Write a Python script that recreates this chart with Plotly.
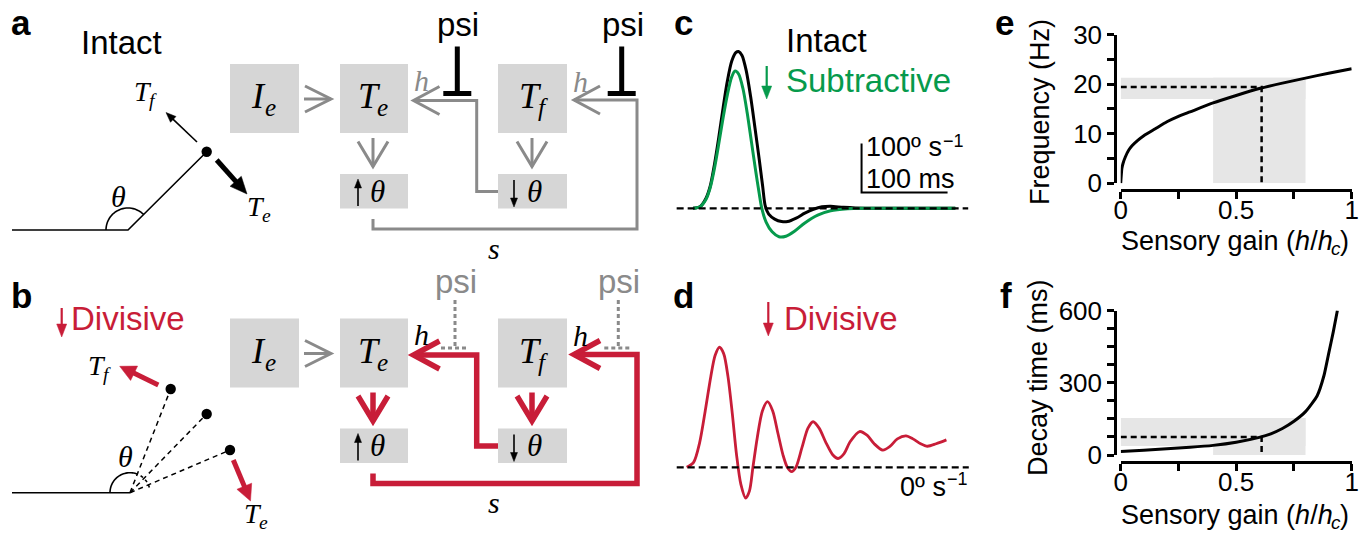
import math
import plotly.graph_objects as go

W, H = 1368, 535

# ---------------- data ----------------
# c: angular velocity (deg/s) over time (ms) after a perturbation
c_time_intact = [0, 8, 15, 20, 25, 30, 35, 40, 45, 50, 53, 57, 62, 67, 72, 77, 81, 84, 88, 95,
                 103, 110, 120, 130, 140, 150, 160, 175, 200, 240, 305]
c_vel_intact = [0, 3, 20, 45, 90, 145, 205, 260, 300, 318, 320, 312, 280, 228, 165, 100, 45, 5, -12, -22,
                -27, -27, -20, -10, -2, 3, 4, 2, 0, 0, 0]
c_time_sub = [0, 8, 15, 20, 25, 30, 35, 40, 45, 49, 53, 58, 63, 68, 73, 77, 80, 85, 92, 100,
              108, 118, 130, 145, 160, 180, 200, 240, 305]
c_vel_sub = [0, 3, 18, 42, 82, 132, 185, 232, 268, 280, 274, 245, 195, 135, 75, 30, 0, -28, -48, -58,
             -57, -47, -30, -14, -5, -1, 0, 0, 0]

# d: divisive reduction of sensory gain -> ringing response
d_time = [0, 8, 15, 22, 28, 33, 38, 43, 48, 53, 58, 63, 68.6, 73, 77, 82, 88, 94, 100, 106,
          112, 117, 122, 127, 134, 141, 147, 154, 162, 170, 176, 183, 190, 201, 210, 218,
          228, 236, 245, 255, 263, 272, 280, 290, 302]
d_vel = [0, 10, 50, 120, 185, 228, 245, 232, 185, 110, 25, -35, -63, -48, 0, 60, 115, 134, 115, 70,
         25, 0, -9, 0, 40, 80, 93, 80, 50, 25, 18, 28, 52, 73, 65, 48,
         35, 42, 58, 64, 58, 48, 43, 48, 56]

# e: oscillation frequency vs sensory gain
e_gain = [0, 0.005, 0.01, 0.02, 0.035, 0.05, 0.075, 0.1, 0.15, 0.2, 0.25, 0.3, 0.4, 0.5, 0.6,
          0.7, 0.8, 0.9, 1.0]
e_freq = [0, 3.0, 4.0, 5.3, 6.7, 7.6, 8.7, 9.6, 11.0, 12.4, 13.5, 14.4, 16.2, 17.7, 19.1,
          20.2, 21.2, 22.2, 23.1]

# f: decay time vs sensory gain
f_gain = [0, 0.1, 0.2, 0.3, 0.4, 0.5, 0.6, 0.65, 0.7, 0.75, 0.8, 0.85, 0.88, 0.9, 0.92, 0.938]
f_decay = [15, 20, 26, 32, 40, 53, 73, 88, 110, 140, 180, 245, 330, 420, 510, 600]

# operating point and physiological range
gain_op = 0.61
freq_op = 19.4
decay_op = 75
gain_band = [0.4, 0.8]
freq_band = [17.0, 21.3]
decay_band = [37, 154]

# scale bar for c
bar_ms = 100
bar_vel = 100

# labelled and unlabelled tick positions
e_ticks = [0, 10, 20, 30]
e_minor = [5, 15, 25]
f_ticks = [0, 300, 600]
f_minor = [75, 150, 225, 375, 450, 525]
gain_ticks = [0, 0.5, 1]
gain_minor = [0.25, 0.75]

# ---------------- style ----------------
SANS = "Arial, Liberation Sans, sans-serif"
SERIF = "Liberation Serif, Times New Roman, serif"
RED = "#c81d38"
GREEN = "#069a4c"
GRAY = "#8a8a8a"
BOX = "#d6d6d6"
SHADE = "#e6e6e6"

# approximate advance widths (em) of the italic serif glyphs used in symbols
GLYPH_W = {"T": 0.556, "I": 0.42, "e": 0.444, "f": 0.278}

shapes = []
annotations = []


def px_x(p):
    return p / W


def px_y(p):
    return 1 - p / H


def poly(pts, color, width, dash="solid", xref="x", yref="y", layer="above"):
    path = "M " + " L ".join(f"{x:.2f},{y:.2f}" for x, y in pts)
    shapes.append(dict(type="path", path=path, xref=xref, yref=yref, layer=layer,
                       line=dict(color=color, width=width, dash=dash)))


def box(x0, y0, x1, y1):
    shapes.append(dict(type="rect", x0=x0, y0=y0, x1=x1, y1=y1, xref="x", yref="y",
                       fillcolor=BOX, line=dict(width=0), layer="above"))


def dot(cx, cy, r=5.2):
    shapes.append(dict(type="circle", x0=cx - r, y0=cy - r, x1=cx + r, y1=cy + r, xref="x",
                       yref="y", fillcolor="black", line=dict(width=0), layer="above"))


def chevron(tx, ty, direction, color, width, along=26, spread=14):
    if direction == "right":
        pts = [(tx - along, ty - spread), (tx, ty), (tx - along, ty + spread)]
    elif direction == "left":
        pts = [(tx + along, ty - spread), (tx, ty), (tx + along, ty + spread)]
    else:  # down
        pts = [(tx - spread, ty - along), (tx, ty), (tx + spread, ty - along)]
    poly(pts, color, width)


def arrow(x0, y0, x1, y1, color, width, head_len, head_w):
    """Straight arrow with a filled triangular head ending at (x1, y1)."""
    L = math.hypot(x1 - x0, y1 - y0)
    ux, uy = (x1 - x0) / L, (y1 - y0) / L
    bx, by = x1 - ux * head_len, y1 - uy * head_len
    nx, ny = -uy, ux
    poly([(x0, y0), (bx + ux * 1.5, by + uy * 1.5)], color, width)
    p1 = (bx + nx * head_w / 2, by + ny * head_w / 2)
    p2 = (bx - nx * head_w / 2, by - ny * head_w / 2)
    shapes.append(dict(type="path", xref="x", yref="y", layer="above",
                       path=f"M {x1:.2f},{y1:.2f} L {p1[0]:.2f},{p1[1]:.2f} L {p2[0]:.2f},{p2[1]:.2f} Z",
                       fillcolor=color, line=dict(color=color, width=0.5)))


def text(x, y, s, size, color="black", family=SANS, xanchor="center", yanchor="middle",
         angle=0):
    annotations.append(dict(x=x, y=y, xref="x", yref="y", text=s, showarrow=False,
                            font=dict(size=size, color=color, family=family),
                            xanchor=xanchor, yanchor=yanchor, textangle=angle,
                            borderpad=0, borderwidth=0))


def symbol(cx, cy, main, sub, size, color="black"):
    """Italic symbol with an italic subscript, centred on (cx, cy)."""
    ss = 0.7 * size
    wm = GLYPH_W[main] * size
    ws = GLYPH_W[sub] * ss
    left = cx - (wm + ws) / 2
    text(left, cy, f"<i>{main}</i>", size, color, SERIF, xanchor="left")
    text(left + wm - 0.03 * size, cy + 0.33 * size, f"<i>{sub}</i>", ss, color, SERIF,
         xanchor="left")


def arc(cx, cy, r, a0, a1, n=30):
    return [(cx + r * math.cos(math.radians(a0 + (a1 - a0) * i / n)),
             cy - r * math.sin(math.radians(a0 + (a1 - a0) * i / n))) for i in range(n + 1)]


# ---------------- panel letters ----------------
for letter, (lx, ly) in {"a": (21, 22), "b": (21, 295), "c": (683, 22), "d": (683, 295),
                         "e": (1004, 22), "f": (1006, 295)}.items():
    text(lx, ly, f"<b>{letter}</b>", 35)

# ---------------- panel a: intact limb ----------------
text(121, 42, "Intact", 33)
poly([(12, 230), (128, 230), (206.7, 151.7)], "black", 1.6)
poly(arc(128, 230, 22, 45, 180), "black", 1.6)
dot(206.7, 151.7)
text(118, 196, "<i>θ</i>", 30, family=SERIF)
arrow(197, 142, 166, 112.5, "black", 1.6, 10, 8)
arrow(216.7, 160, 247, 194, "black", 5, 17, 15)
symbol(145, 91, "T", "f", 28)
symbol(259, 206, "T", "e", 28)

# ---------------- panel b: divisive limb ----------------
arrow(61.7, 308, 61.7, 337, RED, 2.2, 13, 10)
text(71, 318, "Divisive", 33, color=RED, xanchor="left")
pivot_b = (130, 492.7)
poly([(12, 492.7), pivot_b], "black", 1.6)
for d in [(170.7, 389), (206.7, 414), (230, 450)]:
    poly([pivot_b, d], "black", 1.5, dash="5px,4px")
    dot(*d)
poly(arc(pivot_b[0], pivot_b[1], 20, 68, 180), "black", 1.6)
poly(arc(pivot_b[0], pivot_b[1], 20, 15, 68, n=12), "black", 1.6, dash="3px,3px")
text(125, 456, "<i>θ</i>", 30, family=SERIF)
arrow(158.3, 385, 119.7, 366.3, RED, 5, 16, 16)
arrow(233.3, 460, 250.5, 501, RED, 5, 16, 16)
symbol(99, 365, "T", "f", 28)
symbol(256, 513, "T", "e", 28)

# ---------------- block diagrams (a: intact, b: divisive) ----------------
for dy, loop_col, loop_w, hcol in [(0, GRAY, 3, GRAY), (254.5, RED, 5.5, "black")]:
    box(230, 64 + dy, 299, 133 + dy)
    box(340, 64 + dy, 408, 133 + dy)
    box(498, 64 + dy, 567, 133 + dy)
    box(340, 174 + dy, 408, 208.5 + dy)
    box(498, 174 + dy, 567, 208.5 + dy)
    symbol(264.5, 96 + dy, "I", "e", 36)
    symbol(374, 96 + dy, "T", "e", 36)
    symbol(532.5, 96 + dy, "T", "f", 36)
    # I_e -> T_e
    poly([(304, 99 + dy), (331, 99 + dy)], GRAY, 3)
    chevron(331, 99 + dy, "right", GRAY, 3, along=26, spread=13)
    # T -> theta
    poly([(373, 138 + dy), (373, 166.5 + dy)], loop_col, loop_w)
    chevron(373, 166.5 + dy, "down", loop_col, loop_w, along=25, spread=15)
    poly([(532, 138 + dy), (532, 166.5 + dy)], loop_col, loop_w)
    chevron(532, 166.5 + dy, "down", loop_col, loop_w, along=25, spread=15)
    # theta markers
    arrow(358, 206 + dy, 358, 179 + dy, "black", 1.6, 9, 7)
    text(377, 191 + dy, "<i>θ</i>", 31, family=SERIF)
    arrow(514, 180 + dy, 514, 207 + dy, "black", 1.6, 9, 7)
    text(534, 191 + dy, "<i>θ</i>", 31, family=SERIF)
    # inner feedback (down-theta -> T_e)
    poly([(498, 191.5 + dy), (476.7, 191.5 + dy), (476.7, 100.5 + dy), (413.5, 100.5 + dy)],
         loop_col, loop_w)
    chevron(413.5, 100.5 + dy, "left", loop_col, loop_w, along=26, spread=14)
    # outer feedback (up-theta -> T_f)
    poly([(373, 219 + dy), (373, 229 + dy), (637, 229 + dy), (637, 100 + dy), (574, 100 + dy)],
         loop_col, loop_w)
    chevron(574, 100 + dy, "left", loop_col, loop_w, along=26, spread=14)
    text(421, 80 + dy, "<i>h</i>", 30, color=hcol, family=SERIF)
    text(580, 81 + dy, "<i>h</i>", 30, color=hcol, family=SERIF)
    text(494, 248 + dy, "<i>s</i>", 30, family=SERIF)

# psi: blocking in a (solid), released in b (dotted)
for px_ in (457.3, 621.7):
    poly([(px_, 46.5), (px_, 93)], "black", 5)
    poly([(px_ - 14, 93.5), (px_ + 14, 93.5)], "black", 5)
    text(px_ + 1, 24, "psi", 33)
for px_ in (455, 618.3):
    poly([(px_, 300), (px_, 347.5)], GRAY, 3, dash="4px,3px")
    poly([(px_ - 14, 348), (px_ + 14, 348)], GRAY, 3, dash="4px,3px")
    text(px_ + 1, 281, "psi", 33, color=GRAY)

# ---------------- panel c / d texts ----------------
text(786, 40, "Intact", 33, xanchor="left")
arrow(766.7, 66, 766.7, 99, GREEN, 2.2, 13, 10)
text(786, 80, "Subtractive", 33, color=GREEN, xanchor="left")
text(866, 162, "100º s", 27, xanchor="left", yanchor="bottom")
text(943, 151, "−1", 18, xanchor="left", yanchor="bottom")
text(866, 164, "100 ms", 27, xanchor="left", yanchor="top")
arrow(768.3, 302, 768.3, 336, RED, 2.2, 13, 10)
text(784, 318, "Divisive", 33, color=RED, xanchor="left")
text(968, 479, "−1", 18, xanchor="right")
text(946, 487, "0º s", 27, xanchor="right")

# ---------------- panel e / f axis titles ----------------
text(1040, 112, "Frequency (Hz)", 27, angle=-90)
text(1038, 378, "Decay time (ms)", 27, angle=-90)
for ty in (241, 515):
    text(1333, ty, "Sensory gain (<i>h</i>/<i>h</i>", 27, xanchor="right")
    text(1331, ty + 7, "<i>c</i>", 19, xanchor="left")
    text(1340, ty, ")", 27, xanchor="left")

# ---------------- traces ----------------
fig = go.Figure()
fig.add_trace(go.Scatter(x=c_time_intact, y=c_vel_intact, mode="lines", xaxis="x2", yaxis="y2",
                         line=dict(color="black", width=3, shape="spline", smoothing=0.8)))
fig.add_trace(go.Scatter(x=c_time_sub, y=c_vel_sub, mode="lines", xaxis="x2", yaxis="y2",
                         line=dict(color=GREEN, width=3, shape="spline", smoothing=0.8)))
fig.add_trace(go.Scatter(x=d_time, y=d_vel, mode="lines", xaxis="x3", yaxis="y3",
                         line=dict(color=RED, width=2.8, shape="spline", smoothing=0.8)))
fig.add_trace(go.Scatter(x=e_gain, y=e_freq, mode="lines", xaxis="x4", yaxis="y4",
                         line=dict(color="black", width=3, shape="spline", smoothing=0.5)))
fig.add_trace(go.Scatter(x=f_gain, y=f_decay, mode="lines", xaxis="x5", yaxis="y5",
                         line=dict(color="black", width=3, shape="spline", smoothing=0.5)))

# zero lines and scale bar (data units)
poly([(-19, 0), (320, 0)], "black", 2.2, dash="7px,4px", xref="x2", yref="y2")
bar_t0, bar_v0 = 196, 32
poly([(bar_t0, bar_v0 + bar_vel), (bar_t0, bar_v0), (bar_t0 + bar_ms, bar_v0)], "black", 2,
     xref="x2", yref="y2")
poly([(-11.6, 0), (328, 0)], "black", 2.2, dash="7px,4px", xref="x3", yref="y3")

# shaded ranges and operating point in e / f
for ax, band, op in (("4", freq_band, freq_op), ("5", decay_band, decay_op)):
    for x0, x1, y0, y1 in ((0, gain_band[1], band[0], band[1]),
                           (gain_band[0], gain_band[1], 0, band[1])):
        shapes.append(dict(type="rect", x0=x0, x1=x1, y0=y0, y1=y1, xref="x" + ax,
                           yref="y" + ax, fillcolor=SHADE, line=dict(width=0), layer="below"))
    poly([(0, op), (gain_op, op), (gain_op, 0)], "black", 2.5, dash="6px,4px",
         xref="x" + ax, yref="y" + ax)

# ---------------- axes ----------------
ms_per_px = bar_ms / 86.0
vel_per_px = bar_vel / 49.0


def trace_axes(x0p, x1p, y0p, y1p, t0p, zerop, name):
    xa = dict(domain=[px_x(x0p), px_x(x1p)], range=[(x0p - t0p) * ms_per_px, (x1p - t0p) * ms_per_px],
              visible=False, fixedrange=True, automargin=False, anchor="y" + name)
    ya = dict(domain=[px_y(y1p), px_y(y0p)], range=[(zerop - y1p) * vel_per_px, (zerop - y0p) * vel_per_px],
              visible=False, fixedrange=True, automargin=False, anchor="x" + name)
    return xa, ya


xa2, ya2 = trace_axes(650, 985, 15, 255, 693, 208.3, "2")
xa3, ya3 = trace_axes(650, 985, 285, 530, 686.7, 467.3, "3")

tickfont = dict(family=SANS, size=26, color="black")
common = dict(showgrid=False, zeroline=False, showline=True, linecolor="black", linewidth=2.5,
              ticks="outside", ticklen=7, tickwidth=2.5, tickcolor="black", tickfont=tickfont,
              anchor="free", fixedrange=True, automargin=False, tickmode="array")


def minor_ticks(vals):
    return dict(tickmode="array", tickvals=vals, ticks="outside", ticklen=7, tickwidth=2.5,
                tickcolor="black", showgrid=False)


gain_x = dict(domain=[px_x(1120.7), px_x(1351.7)], range=[0, 1], tickvals=gain_ticks,
              ticklabelstandoff=-11, minor=minor_ticks(gain_minor), **common)

fig.update_layout(
    template="none",
    width=W, height=H, margin=dict(l=0, r=0, t=0, b=0, pad=0, autoexpand=False),
    font=dict(family=SANS, color="black"),
    paper_bgcolor="white", plot_bgcolor="rgba(0,0,0,0)", showlegend=False,
    xaxis=dict(domain=[0, 1], range=[0, W], visible=False, fixedrange=True, automargin=False),
    yaxis=dict(domain=[0, 1], range=[H, 0], visible=False, fixedrange=True, automargin=False),
    xaxis2=xa2, yaxis2=ya2, xaxis3=xa3, yaxis3=ya3,
    xaxis4=dict(position=px_y(190), **gain_x),
    yaxis4=dict(domain=[px_y(183.3), px_y(34.5)], range=[0, 30], position=px_x(1115),
                tickvals=e_ticks, minor=minor_ticks(e_minor), **common),
    xaxis5=dict(position=px_y(462), **gain_x),
    yaxis5=dict(domain=[px_y(455), px_y(310.5)], range=[0, 600], position=px_x(1115),
                tickvals=f_ticks, minor=minor_ticks(f_minor), **common),
    shapes=shapes, annotations=annotations,
)

fig.write_html("out.html")
